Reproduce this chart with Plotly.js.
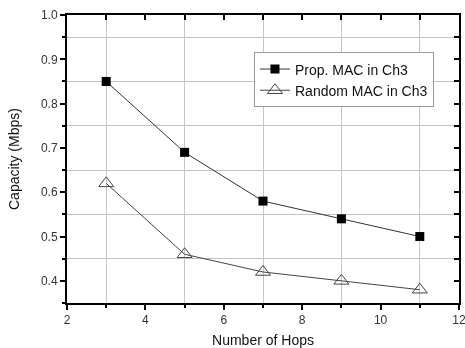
<!DOCTYPE html>
<html><head><meta charset="utf-8">
<script src="https://cdn.plot.ly/plotly-3.0.1.min.js"></script>
<style>html,body{margin:0;padding:0;background:#fff}#c{width:465px;height:348px}</style>
</head><body><div id="c"></div>
<script>
const hops = [3, 5, 7, 9, 11];
const propMAC = [0.85, 0.69, 0.58, 0.54, 0.50];
const randomMAC = [0.62, 0.46, 0.42, 0.40, 0.38];
const seriesNames = ['Prop. MAC in Ch3', 'Random MAC in Ch3'];
const yTitle = 'Capacity (Mbps)';
const xTitle = 'Number of Hops';

const font = {family: 'Liberation Sans, Arial, sans-serif', size: 12, color: '#333'};
const traces = [
  {x: hops, y: propMAC, name: seriesNames[0], mode: 'lines+markers',
   line: {color: '#333', width: 1}, marker: {symbol: 'square', size: 9, color: '#000'}},
  {x: hops, y: randomMAC, name: seriesNames[1], mode: 'lines+markers',
   line: {color: '#444', width: 1}, marker: {symbol: 'triangle-up-open', size: 13, color: '#444', line: {width: 1}}},
  {x: hops, y: propMAC, xaxis: 'x2', yaxis: 'y2', mode: 'markers', opacity: 0, showlegend: false, hoverinfo: 'skip'}
];
const common = {showline: true, linecolor: '#000', linewidth: 2, tickcolor: '#000', tickwidth: 2, zeroline: false};
const layout = {
  width: 465, height: 348, font: font,
  paper_bgcolor: '#fff', plot_bgcolor: '#fff',
  margin: {l: 67, r: 6, t: 15, b: 45},
  showlegend: true,
  legend: {x: 0.477, y: 0.87, xanchor: 'left', yanchor: 'top', bgcolor: '#fff',
    bordercolor: '#999', borderwidth: 1, font: {family: font.family, size: 14, color: '#111'},
    tracegroupgap: 0, itemwidth: 30},
  xaxis: Object.assign({}, common, {range: [2, 12], tick0: 2, dtick: 2, ticks: 'outside', ticklen: 5,
    showgrid: false, ticklabeloverflow: 'allow',
    minor: {dtick: 1, showgrid: true, gridcolor: '#c4c4c4', gridwidth: 1, ticks: 'outside', ticklen: 3, tickcolor: '#000', tickwidth: 2},
    title: {text: xTitle, font: {size: 14, color: '#111'}, standoff: 10}}),
  yaxis: Object.assign({}, common, {range: [0.35, 1.0], tick0: 0.4, dtick: 0.1, tickformat: '.1f', ticks: 'outside', ticklen: 5,
    showgrid: false,
    minor: {dtick: 0.05, showgrid: true, gridcolor: '#c4c4c4', gridwidth: 1, ticks: 'outside', ticklen: 3, tickcolor: '#000', tickwidth: 2}}),
  xaxis2: Object.assign({}, common, {overlaying: 'x', side: 'top', range: [2, 12], tick0: 2, dtick: 1,
    ticks: 'inside', ticklen: 5, showticklabels: false, showgrid: false}),
  yaxis2: Object.assign({}, common, {overlaying: 'y', side: 'right', range: [0.35, 1.0], tick0: 0.4, dtick: 0.05,
    ticks: 'inside', ticklen: 5, showticklabels: false, showgrid: false}),
  annotations: [{text: yTitle, xref: 'paper', yref: 'paper', x: 0, y: 0.5, xshift: -53,
    xanchor: 'center', yanchor: 'middle', textangle: -90, showarrow: false,
    font: {size: 14, color: '#111'}}]
};
Plotly.newPlot('c', traces, layout, {displayModeBar: false, staticPlot: true});
</script></body></html>
